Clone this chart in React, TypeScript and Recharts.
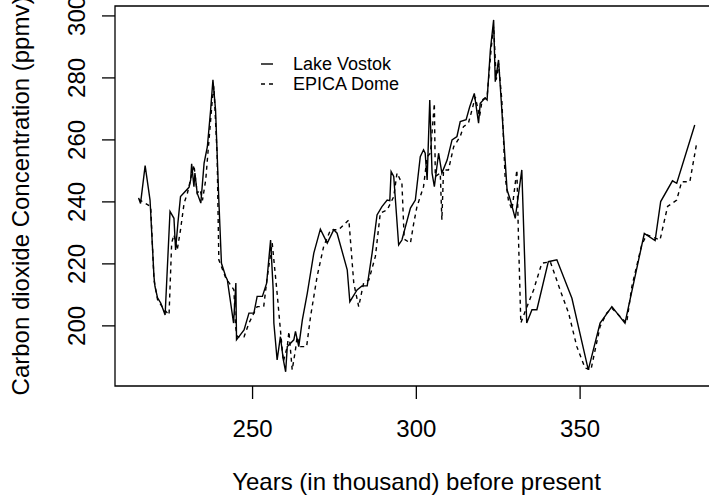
import React from 'react';
import { LineChart, Line, XAxis, YAxis, ReferenceArea, Legend } from 'recharts';

const vostokYears = [
  215.2, 215.8, 217.2, 218.7, 219.9, 220.2, 221.0, 222.0, 223.3, 224.8, 226.0, 226.5, 227.2, 228.0,
  230.6, 231.1, 231.4, 232.1, 232.4, 233.1, 234.2, 235.2, 236.2, 237.2, 237.9, 238.7, 239.7, 240.5,
  241.8, 242.3, 244.2, 244.9, 245.1, 247.4, 248.9, 250.4, 251.4, 253.0, 254.3, 255.5, 256.3, 256.5,
  257.5, 258.5, 259.4, 260.1, 260.6, 261.6, 262.6, 263.1, 264.1, 265.2, 266.7, 268.7, 270.7, 272.8,
  274.8, 275.8, 278.9, 279.7, 281.9, 283.4, 285.0, 286.5, 288.0, 289.5, 291.1, 291.9, 292.3, 293.1,
  294.6, 295.6, 298.2, 299.7, 301.2, 302.2, 302.7, 303.3, 304.1, 304.8, 305.5, 306.8, 307.8, 309.4,
  310.9, 312.4, 313.4, 315.2, 316.3, 317.7, 319.0, 319.5, 321.0, 321.6, 322.6, 323.6, 324.1, 325.1,
  327.7, 328.7, 330.2, 332.2, 333.7, 335.3, 336.8, 340.3, 342.9, 347.5, 352.5, 356.1, 359.7, 363.7,
  369.6, 372.9, 374.6, 378.2, 379.5, 385.0,
];
const vostokCO2 = [
  241.3, 239.5, 251.7, 240.6, 215.9, 212.7, 209.0, 207.3, 203.5, 236.9, 234.7, 224.5, 233.1, 241.7,
  244.7, 247.1, 252.3, 244.9, 249.3, 242.8, 239.6, 252.5, 257.8, 269.7, 279.4, 269.7, 240.6, 220.2,
  215.9, 214.8, 200.9, 213.8, 195.5, 198.7, 204.1, 204.1, 209.5, 209.5, 213.8, 227.7, 211.6, 200.9,
  189.0, 196.5, 189.0, 185.2, 193.3, 194.4, 195.5, 198.2, 193.3, 201.9, 210.5, 223.5, 231.2, 226.7,
  231.0, 229.9, 218.1, 207.8, 211.6, 212.9, 212.9, 223.5, 235.8, 238.5, 240.6, 240.4, 249.8, 248.2,
  226.1, 227.7, 238.0, 240.6, 254.6, 256.8, 255.7, 247.1, 272.9, 249.3, 244.9, 255.7, 249.3, 253.5,
  260.0, 261.1, 265.9, 266.5, 270.7, 275.0, 265.4, 271.8, 273.5, 272.9, 289.0, 298.7, 278.8, 285.8,
  243.9, 240.6, 234.7, 250.3, 200.9, 205.2, 205.2, 220.7, 221.3, 208.9, 185.8, 200.9, 206.2, 200.9,
  229.8, 227.5, 240.1, 246.8, 246.0, 264.8,
];

const epicaYears = [
  215.3, 218.9, 219.9, 221.0, 222.5, 224.5, 225.3, 226.0, 227.0, 228.0, 229.1, 230.1, 232.1, 233.1,
  234.0, 234.7, 235.7, 237.7, 238.2, 239.2, 239.4, 239.7, 241.8, 244.3, 244.8, 245.3, 247.4, 248.9,
  251.4, 253.4, 254.5, 256.0, 257.5, 258.5, 259.4, 260.6, 261.1, 262.1, 263.1, 263.6, 264.6, 266.5,
  267.7, 269.7, 271.7, 273.8, 276.3, 279.4, 280.9, 282.4, 283.9, 285.5, 287.5, 289.0, 291.1, 293.1,
  294.1, 295.6, 296.3, 298.2, 299.2, 300.2, 302.2, 303.3, 304.3, 305.5, 305.8, 307.3, 307.8, 308.3,
  309.8, 311.4, 313.4, 314.4, 315.9, 317.0, 318.0, 319.3, 320.1, 321.6, 322.9, 323.6, 324.4, 325.1,
  326.1, 327.1, 328.1, 329.2, 330.7, 331.2, 331.9, 333.2, 335.8, 338.3, 340.9, 343.9, 346.5, 349.0,
  351.5, 353.3, 356.1, 358.1, 359.7, 364.2, 365.8, 368.8, 370.3, 374.4, 376.7, 379.5, 381.0, 383.5,
  385.5,
];
const epicaCO2 = [
  240.8, 238.5, 214.8, 208.4, 206.0, 203.5, 226.7, 229.4, 224.5, 231.0, 239.6, 242.8, 251.9, 242.8,
  243.9, 240.5, 247.1, 272.9, 277.2, 254.6, 240.6, 221.3, 215.5, 211.6, 199.8, 196.5, 196.5, 200.9,
  206.2, 206.2, 215.9, 226.7, 210.5, 198.7, 188.5, 193.3, 198.2, 185.8, 192.3, 196.5, 193.3, 193.3,
  203.0, 215.9, 225.6, 231.0, 231.0, 234.2, 213.8, 206.2, 213.8, 214.8, 222.4, 236.4, 237.4, 241.7,
  249.3, 246.0, 228.0, 226.7, 233.1, 238.5, 244.9, 254.6, 255.7, 271.8, 248.2, 249.3, 234.2, 250.3,
  250.3, 257.8, 261.1, 264.3, 265.4, 269.7, 273.9, 267.5, 272.9, 273.9, 290.1, 296.6, 279.4, 284.7,
  272.9, 248.2, 240.6, 237.4, 250.3, 227.7, 200.9, 204.6, 211.6, 220.2, 220.7, 211.6, 204.1, 193.3,
  186.4, 185.8, 199.8, 204.1, 205.7, 200.9, 212.7, 226.1, 229.4, 227.7, 238.5, 240.6, 246.5, 246.5,
  258.4,
];

const xTicks = [250, 300, 350];
const yTicks = [200, 220, 240, 260, 280, 300];
const xDomain: [number, number] = [208.0, 392.1];
const yDomain: [number, number] = [180.6, 303.2];
const seriesNames = ['Lake Vostok', 'EPICA Dome'];
const xTitle = 'Years (in thousand) before present';
const yTitle = 'Carbon dioxide Concentration (ppmv)';

const FONT = '"Liberation Sans", Arial, Helvetica, sans-serif';
const DASH = '4 4';

const vostokData = vostokYears.map((x, i) => ({ x, y: vostokCO2[i] }));
const epicaData = epicaYears.map((x, i) => ({ x, y: epicaCO2[i] }));

const XTick = (props: any) => {
  const { x, y, payload } = props;
  return (
    <text x={x} y={y + 37.5} textAnchor="middle" fontSize={24} fill="#000" fontFamily={FONT}>
      {payload.value}
    </text>
  );
};

const YTick = (props: any) => {
  const { x, y, payload } = props;
  const bx = x - 17;
  return (
    <text
      x={bx}
      y={y}
      transform={`rotate(-90 ${bx} ${y})`}
      textAnchor="middle"
      fontSize={24}
      fill="#000"
      fontFamily={FONT}
    >
      {payload.value}
    </text>
  );
};

const XTitle = (props: any) => {
  const vb = props.viewBox || { x: 115, width: 603, y: 386 };
  const cx = vb.x + vb.width / 2;
  return (
    <text x={cx} y={490} textAnchor="middle" fontSize={24} fill="#000" fontFamily={FONT}>
      {xTitle}
    </text>
  );
};

const YTitle = (props: any) => {
  const vb = props.viewBox || { y: 6, height: 380 };
  const cy = vb.y + vb.height / 2;
  const bx = 28.5;
  return (
    <text
      x={bx}
      y={cy}
      transform={`rotate(-90 ${bx} ${cy})`}
      textAnchor="middle"
      fontSize={24}
      fill="#000"
      fontFamily={FONT}
    >
      {yTitle}
    </text>
  );
};

const LegendContent = () => (
  <svg width={170} height={50} style={{ display: 'block', overflow: 'visible' }}>
    <line x1={6} x2={18} y1={14} y2={14} stroke="#000" strokeWidth={1.4} />
    <text x={38} y={20} fontSize={18} fill="#000" fontFamily={FONT}>
      {seriesNames[0]}
    </text>
    <line x1={6} x2={18} y1={34} y2={34} stroke="#000" strokeWidth={1.4} strokeDasharray={DASH} />
    <text x={38} y={40} fontSize={18} fill="#000" fontFamily={FONT}>
      {seriesNames[1]}
    </text>
  </svg>
);

export default function App() {
  return (
    <div
      style={{
        position: 'absolute',
        left: 0,
        top: 0,
        width: 709,
        height: 501,
        overflow: 'hidden',
        background: '#fff',
      }}
    >
      <LineChart width={740} height={501} margin={{ top: 6, right: 22, bottom: 5, left: 0 }}>
        <XAxis
          dataKey="x"
          type="number"
          domain={xDomain}
          ticks={xTicks}
          allowDataOverflow
          height={110}
          axisLine={false}
          tickLine={{ stroke: '#000', strokeWidth: 1.3 }}
          tickSize={13}
          tickMargin={0}
          tick={<XTick />}
          interval={0}
          label={<XTitleWrap />}
        />
        <YAxis
          dataKey="y"
          type="number"
          domain={yDomain}
          ticks={yTicks}
          allowDataOverflow
          width={115}
          axisLine={false}
          tickLine={{ stroke: '#000', strokeWidth: 1.3 }}
          tickSize={13}
          tickMargin={0}
          tick={<YTick />}
          interval={0}
          label={<YTitleWrap />}
        />
        <ReferenceArea
          x1={xDomain[0]}
          x2={xDomain[1]}
          y1={yDomain[0]}
          y2={yDomain[1]}
          fill="none"
          stroke="#000"
          strokeWidth={1.3}
          ifOverflow="visible"
        />
        <Line
          data={vostokData}
          dataKey="y"
          name={seriesNames[0]}
          type="linear"
          stroke="#000"
          strokeWidth={1.4}
          dot={false}
          activeDot={false}
          isAnimationActive={false}
        />
        <Line
          data={epicaData}
          dataKey="y"
          name={seriesNames[1]}
          type="linear"
          stroke="#000"
          strokeWidth={1.4}
          strokeDasharray={DASH}
          dot={false}
          activeDot={false}
          isAnimationActive={false}
        />
        <Legend
          layout="vertical"
          verticalAlign="middle"
          align="center"
          wrapperStyle={{ position: 'absolute', left: 255, top: 50, width: 170, height: 50 }}
          content={<LegendContent />}
        />
      </LineChart>
    </div>
  );
}

function XTitleWrap(props: any) {
  return <XTitle {...props} />;
}
function YTitleWrap(props: any) {
  return <YTitle {...props} />;
}
